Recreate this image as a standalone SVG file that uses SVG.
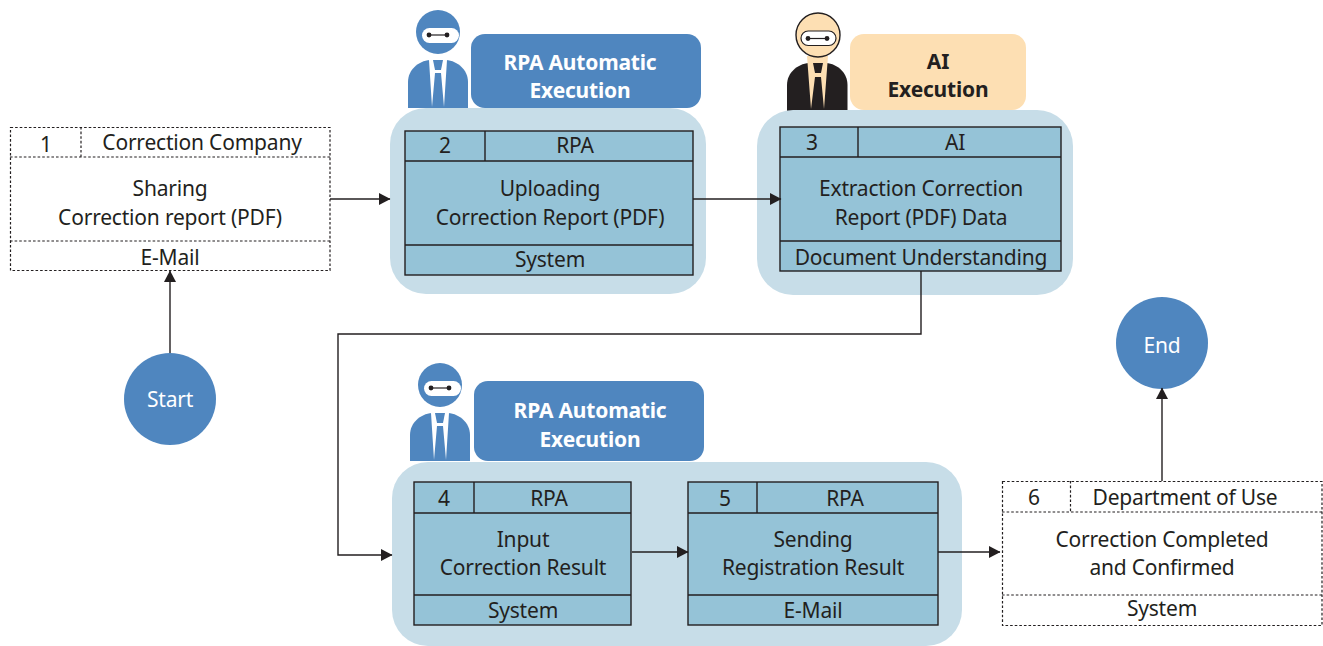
<svg xmlns="http://www.w3.org/2000/svg" width="1323" height="646" viewBox="0 0 1323 646">
<style>
text{font-family:"Noto Sans","Open Sans","Liberation Sans",sans-serif;font-size:21px;letter-spacing:-.2px;fill:#231f20;text-anchor:middle}
.b{font-weight:700}
.w{fill:#fff}
.bg{fill:#c7dde8}
.cell{fill:#95c3d7;stroke:#231f20;stroke-width:1.4}
.dash{fill:#fff;stroke:#231f20;stroke-width:1.2;stroke-dasharray:2.6 2}
.ln{fill:none;stroke:#231f20;stroke-width:1.4}
.dl{fill:none;stroke:#231f20;stroke-width:1.2;stroke-dasharray:2.6 2}
.blue{fill:#4f86bf}
.skin{fill:#fddfb3}
.dark{fill:#231f20}
.con{fill:none;stroke:#231f20;stroke-width:1.4;marker-end:url(#ah)}
</style>
<defs>
<marker id="ah" markerUnits="userSpaceOnUse" markerWidth="12" markerHeight="12" refX="11" refY="6" orient="auto"><path d="M0 0L11.5 6L0 12Z" fill="#231f20"/></marker>
<g id="robotBlue">
<circle cx="30" cy="22" r="22" class="blue"/>
<rect x="14" y="18" width="37" height="15" rx="7.500" fill="#fff"/>
<path d="M21 25H39" stroke="#231f20" stroke-width="1.2"/>
<circle cx="21" cy="25" r="2.400" fill="#231f20"/><circle cx="39" cy="25" r="2.400" fill="#231f20"/>
<path d="M0 98V72C0 60 10 51 22 50H38C50 51 60 60 60 72V98Z" class="blue"/>
<path d="M21 50H39L36 97L33 63H27L24 97Z" fill="#fff"/>
<path d="M25 50H35L33 60H27Z" class="blue"/>
</g>
</defs>

<g id="start"><circle cx="170" cy="399" r="46" class="blue"/><text class="w" x="170" y="407">Start</text></g>
<g id="end"><circle cx="1162" cy="343" r="46" class="blue"/><text class="w" x="1162" y="353">End</text></g>

<g id="node1">
<rect class="dash" x="10.500" y="127.500" width="319.500" height="143"/>
<path class="dl" d="M81 127V157M10 157H330M10 241H330"/>
<text x="46" y="152">1</text><text x="202" y="150">Correction Company</text>
<text x="170" y="196">Sharing</text><text x="170" y="225">Correction report (PDF)</text>
<text x="170" y="265">E-Mail</text>
</g>

<g id="badge2">
<use href="#robotBlue" x="408" y="10"/>
<rect class="blue" x="471" y="34" width="230" height="74" rx="14"/>
<text class="b w" x="580" y="70">RPA Automatic</text><text class="b w" x="580" y="98">Execution</text>
</g>
<g id="node2">
<rect class="bg" x="390" y="108" width="316" height="186" rx="36"/>
<rect class="cell" x="405" y="131" width="288" height="144"/>
<path class="ln" d="M485 131V161M405 161H693M405 245H693"/>
<text x="445" y="153">2</text><text x="575" y="153">RPA</text>
<text x="550" y="196">Uploading</text><text x="550" y="225">Correction Report (PDF)</text>
<text x="550" y="267">System</text>
</g>

<g id="badge3">
<path d="M787 111V85C787 73 797 64 809 63H826C838 64 847.500 73 847.500 85V111Z" class="dark"/>
<path d="M807 56H828L824 109L821 77H815L811 109Z" class="skin"/>
<path d="M813 63H823L821 73H815Z" class="dark"/>
<circle cx="818" cy="35" r="22" class="skin" stroke="#231f20" stroke-width="1.400"/>
<rect x="801" y="31" width="35" height="14.500" rx="7.200" fill="#fff" stroke="#231f20" stroke-width="1.200"/>
<path d="M808 38.500H827" stroke="#231f20" stroke-width="1.200"/>
<circle cx="808" cy="38.500" r="2.400" class="dark"/><circle cx="827" cy="38.500" r="2.400" class="dark"/>
<rect x="850" y="34" width="176" height="76" rx="14" class="skin"/>
<text class="b" x="938" y="69">AI</text><text class="b" x="938" y="97">Execution</text>
</g>
<g id="node3">
<rect class="bg" x="757" y="110" width="316" height="185" rx="36"/>
<rect class="cell" x="780" y="127" width="281" height="144"/>
<path class="ln" d="M858 127V157M780 157H1061M780 241H1061"/>
<text x="812" y="150">3</text><text x="955" y="150">AI</text>
<text x="921" y="196">Extraction Correction</text><text x="921" y="225">Report (PDF) Data</text>
<text x="921" y="265">Document Understanding</text>
</g>

<g id="badge4">
<use href="#robotBlue" x="410" y="363"/>
<rect class="blue" x="474" y="381" width="230" height="80" rx="14"/>
<text class="b w" x="590" y="418">RPA Automatic</text><text class="b w" x="590" y="447">Execution</text>
</g>
<g id="group45"><rect class="bg" x="392" y="462" width="570" height="184" rx="36"/></g>
<g id="node4">
<rect class="cell" x="414" y="482" width="217" height="143"/>
<path class="ln" d="M474 482V513M414 513H631M414 595H631"/>
<text x="444" y="506">4</text><text x="549" y="506">RPA</text>
<text x="523" y="547">Input</text><text x="523" y="575">Correction Result</text>
<text x="523" y="618">System</text>
</g>
<g id="node5">
<rect class="cell" x="688" y="482" width="250" height="143"/>
<path class="ln" d="M757 482V513M688 513H938M688 595H938"/>
<text x="725" y="506">5</text><text x="845" y="506">RPA</text>
<text x="813" y="547">Sending</text><text x="813" y="575">Registration Result</text>
<text x="813" y="618">E-Mail</text>
</g>
<g id="node6">
<rect class="dash" x="1002.500" y="481.500" width="319.500" height="144"/>
<path class="dl" d="M1070.500 481V512M1002 512H1322M1002 595H1322"/>
<text x="1034" y="505">6</text><text x="1185" y="505">Department of Use</text>
<text x="1162" y="547">Correction Completed</text><text x="1162" y="575">and Confirmed</text>
<text x="1162" y="616">System</text>
</g>

<g id="connectors">
<path class="con" d="M330 199H390"/>
<path class="con" d="M693 199H781"/>
<path class="con" d="M170 353V271"/>
<path class="con" d="M921 271V334H338V555H392"/>
<path class="con" d="M632 552H688"/>
<path class="con" d="M938 552H1000"/>
<path class="con" d="M1162 481V388"/>
</g>
</svg>
